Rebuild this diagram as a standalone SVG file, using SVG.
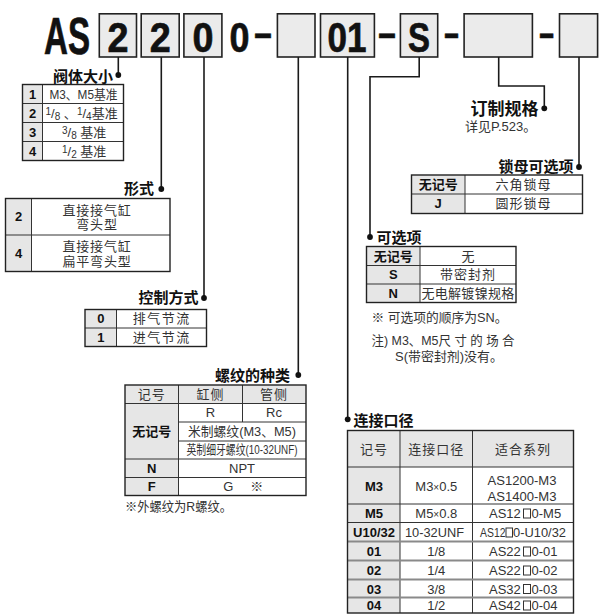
<svg xmlns="http://www.w3.org/2000/svg" width="609" height="614" viewBox="0 0 609 614">
<defs>
<style>
.f{font-family:"Liberation Sans","Noto Sans CJK SC",sans-serif}
.big{font-weight:bold;font-size:43px;fill:#111;stroke:#111;stroke-width:0.7;text-anchor:middle}
.bx{fill:#ebebeb;stroke:#222;stroke-width:1.6}
.ln{fill:none;stroke:#1a1a1a;stroke-width:1.6;marker-end:url(#dot)}
.h{font-size:15px;font-weight:bold;fill:#111}
.t{font-size:13px;fill:#333;text-anchor:middle}
.k{font-size:13px;font-weight:bold;fill:#111;text-anchor:middle}
.kc{fill:#e6e6e6}
.ob{fill:none;stroke:#222;stroke-width:1.4}
.il{fill:none;stroke:#333;stroke-width:1}
.gl{fill:none;stroke:#8a8a8a;stroke-width:2}
.nt{font-size:13px;fill:#333}
.sq{fill:#fff;stroke:#333;stroke-width:1}
</style>
<marker id="dot" viewBox="-4 -4 8 8" markerUnits="userSpaceOnUse" markerWidth="7" markerHeight="7" refX="0" refY="0"><circle r="3.3" fill="#111"/></marker>
</defs>
<rect width="609" height="614" fill="#fff"/>
<g class="f">
<g id="code">
<text transform="translate(44 53.5) scale(0.637 1)" font-weight="bold" font-size="52" fill="#111" stroke="#111" stroke-width="0.7">AS</text>
<rect class="bx" x="99.3" y="13.8" width="37.2" height="43.2"/>
<text class="big" x="117.9" y="52.4" textLength="21" lengthAdjust="spacingAndGlyphs">2</text>
<rect class="bx" x="141.2" y="13.8" width="38" height="43.2"/>
<text class="big" x="160.2" y="52.4" textLength="21" lengthAdjust="spacingAndGlyphs">2</text>
<rect class="bx" x="183.9" y="13.8" width="38" height="43.2"/>
<text class="big" x="202.9" y="52.4" textLength="21" lengthAdjust="spacingAndGlyphs">0</text>
<text class="big" x="239.6" y="52.4" textLength="20" lengthAdjust="spacingAndGlyphs">0</text>
<text class="big" x="262.9" y="47" textLength="17.5" lengthAdjust="spacingAndGlyphs">–</text>
<rect class="bx" x="277.4" y="13.8" width="37.6" height="43.2"/>
<rect class="bx" x="320.5" y="13.8" width="53.9" height="43.2"/>
<text class="big" x="347" y="52.4" textLength="39" lengthAdjust="spacingAndGlyphs">01</text>
<text class="big" x="387" y="47" textLength="17.5" lengthAdjust="spacingAndGlyphs">–</text>
<rect class="bx" x="400.4" y="13.8" width="37.3" height="43.2"/>
<text class="big" x="419" y="52.4" textLength="22" lengthAdjust="spacingAndGlyphs">S</text>
<text class="big" x="451.4" y="47" textLength="14.5" lengthAdjust="spacingAndGlyphs">–</text>
<rect class="bx" x="464.1" y="13.8" width="68.3" height="43.2"/>
<text class="big" x="546.7" y="47" textLength="14.7" lengthAdjust="spacingAndGlyphs">–</text>
<rect class="bx" x="559.5" y="13.8" width="38.1" height="43.2"/>
</g>
<g id="connectors">
<path class="ln" d="M118.3 57V75"/>
<path class="ln" d="M161.3 57V189"/>
<path class="ln" d="M204 57V298"/>
<path class="ln" d="M298.3 57V375"/>
<path class="ln" d="M347.7 57V419.3"/>
<path class="ln" d="M419.2 57V76.7H370V237"/>
<path class="ln" d="M498.7 57V86H544.3V108.3"/>
<path class="ln" d="M579 57V167"/>
</g>
<g id="size">
<text class="h" x="113" y="81.5" text-anchor="end">阀体大小</text>
<rect class="kc" x="22.5" y="84.5" width="20" height="76"/>
<path class="il" d="M42.5 84.5V160.5M22.5 103.5H123.5M22.5 122.5H123.5M22.5 141.5H123.5"/>
<rect class="ob" x="22.5" y="84.5" width="101" height="76"/>
<text class="k" x="32.5" y="98.5">1</text>
<text class="k" x="32.5" y="117.5">2</text>
<text class="k" x="32.5" y="136.5">3</text>
<text class="k" x="32.5" y="155.5">4</text>
<text class="t" x="83.5" y="98.5" textLength="68" lengthAdjust="spacingAndGlyphs">M3、M5基准</text>
<text class="nt" x="45.5" y="117.5"><tspan font-size="10" dy="-3">1</tspan><tspan dy="3">/</tspan><tspan font-size="10" dy="2">8</tspan><tspan dy="-2"> 、</tspan><tspan font-size="10" dy="-3">1</tspan><tspan dy="3">/</tspan><tspan font-size="10" dy="2">4</tspan><tspan dy="-2">基准</tspan></text>
<text class="nt" x="62" y="136.5"><tspan font-size="10" dy="-3">3</tspan><tspan dy="3">/</tspan><tspan font-size="10" dy="2">8</tspan><tspan dy="-2"> 基准</tspan></text>
<text class="nt" x="62" y="155.5"><tspan font-size="10" dy="-3">1</tspan><tspan dy="3">/</tspan><tspan font-size="10" dy="2">2</tspan><tspan dy="-2"> 基准</tspan></text>
</g>
<g id="type">
<text class="h" x="154" y="193.5" text-anchor="end">形式</text>
<rect class="kc" x="5.5" y="198.5" width="26" height="73"/>
<path class="il" d="M31.5 198.5V271.5M5.5 235H170"/>
<rect class="ob" x="5.5" y="198.5" width="164.5" height="73"/>
<text class="k" x="18.5" y="221">2</text>
<text class="k" x="18.5" y="257.5">4</text>
<text class="t" x="97" y="214.5" font-size="12.5" letter-spacing="0.8">直接接气缸</text>
<text class="t" x="97" y="229" font-size="12.5" letter-spacing="0.8">弯头型</text>
<text class="t" x="97" y="251" font-size="12.5" letter-spacing="0.8">直接接气缸</text>
<text class="t" x="97" y="265.5" font-size="12.5" letter-spacing="0.8">扁平弯头型</text>
</g>
<g id="control">
<text class="h" x="198.5" y="303" text-anchor="end">控制方式</text>
<rect class="kc" x="85" y="309.5" width="31.5" height="37"/>
<path class="il" d="M116.5 309.5V346.5M85 328H206.5"/>
<rect class="ob" x="85" y="309.5" width="121.5" height="37"/>
<text class="k" x="100.8" y="323.3">0</text>
<text class="k" x="100.8" y="341.8">1</text>
<text class="t" x="161.7" y="323.3" letter-spacing="1.5">排气节流</text>
<text class="t" x="161.7" y="341.8" letter-spacing="1.5">进气节流</text>
</g>
<g id="thread">
<text class="h" x="290" y="381" text-anchor="end">螺纹的种类</text>
<rect class="kc" x="125" y="385" width="181" height="18.5"/>
<rect class="kc" x="125" y="403.5" width="53.5" height="92"/>
<path class="il" d="M178.5 385V495.5M242.5 385V422M125 403.5H306M178.5 422H306M178.5 441H306M125 459H306M125 477.5H306"/>
<rect class="ob" x="125" y="385" width="181" height="110.5"/>
<text class="t" x="151.7" y="398.7" fill="#555" letter-spacing="1">记号</text>
<text class="t" x="210.5" y="398.7" fill="#555" letter-spacing="1">缸侧</text>
<text class="t" x="274" y="398.7" fill="#555" letter-spacing="1">管侧</text>
<text class="t" x="210.5" y="417.2">R</text>
<text class="t" x="274" y="417.2">Rc</text>
<text class="t" x="242" y="436" textLength="108" lengthAdjust="spacingAndGlyphs">米制螺纹(M3、M5)</text>
<text class="t" x="242" y="454.3" font-size="11.5" textLength="111" lengthAdjust="spacingAndGlyphs">英制细牙螺纹(10-32UNF)</text>
<text class="k" x="151.7" y="435.7" font-size="14">无记号</text>
<text class="k" x="151.7" y="472.7">N</text>
<text class="k" x="151.7" y="491">F</text>
<text class="t" x="242" y="472.7">NPT</text>
<text class="t" x="228.3" y="491">G</text>
<text class="t" x="256.7" y="491">※</text>
<text class="nt" x="125" y="511" font-size="12" textLength="107" lengthAdjust="spacingAndGlyphs">※外螺纹为R螺纹。</text>
</g>
<g id="custom">
<text x="538.5" y="115" font-size="17" font-weight="bold" fill="#111" text-anchor="end">订制规格</text>
<text class="nt" x="465" y="131" font-size="12">详见P.523。</text>
</g>
<g id="locknut">
<text class="h" x="573.5" y="172" text-anchor="end">锁母可选项</text>
<rect class="kc" x="411.5" y="175" width="53.5" height="38.5"/>
<path class="il" d="M465 175V213.5M411.5 194H582.5"/>
<rect class="ob" x="411.5" y="175" width="171" height="38.5"/>
<text class="k" x="438.2" y="189">无记号</text>
<text class="k" x="438.2" y="208">J</text>
<text class="t" x="523.5" y="189" letter-spacing="1">六角锁母</text>
<text class="t" x="523.5" y="208" letter-spacing="1">圆形锁母</text>
</g>
<g id="option">
<text class="h" x="376.5" y="243.3">可选项</text>
<rect class="kc" x="366.5" y="246.5" width="53.5" height="56"/>
<path class="il" d="M420 246.5V302.5M366.5 265.5H516M366.5 284H516"/>
<rect class="ob" x="366.5" y="246.5" width="149.5" height="56"/>
<text class="k" x="393.3" y="260.5">无记号</text>
<text class="k" x="393.3" y="279">S</text>
<text class="k" x="393.3" y="297.5">N</text>
<text class="t" x="468" y="260.5">无</text>
<text class="t" x="468" y="279" letter-spacing="1">带密封剂</text>
<text class="t" x="468" y="297.5" letter-spacing="0.3">无电解镀镍规格</text>
<text class="nt" x="371.5" y="322" textLength="136" lengthAdjust="spacingAndGlyphs">※ 可选项的顺序为SN。</text>
<text class="nt" x="371.5" y="344.5" textLength="143" lengthAdjust="spacingAndGlyphs">注) M3、M5尺 寸 的 场 合</text>
<text class="nt" x="395" y="361" textLength="108" lengthAdjust="spacingAndGlyphs">S(带密封剂)没有。</text>
</g>
<g id="port">
<text class="h" x="353.5" y="425.5">连接口径</text>
<rect class="kc" x="347.5" y="430.5" width="226" height="36.5"/>
<rect class="kc" x="347.5" y="467" width="52.5" height="146"/>
<path class="il" d="M400 430.5V613M472.5 430.5V613M347.5 467H573.5M347.5 504H573.5M347.5 522.5H573.5"/>
<path class="gl" d="M347.5 541.5H573.5M347.5 560.5H573.5M347.5 579.5H573.5M347.5 597.5H573.5"/>
<rect class="ob" x="347.5" y="430.5" width="226" height="182.5"/>
<text class="t" x="374" y="453.5" letter-spacing="1">记号</text>
<text class="t" x="436.3" y="453.5" letter-spacing="1">连接口径</text>
<text class="t" x="523" y="453.5" letter-spacing="1">适合系列</text>
<g class="k" font-size="14">
<text x="374" y="490.5">M3</text>
<text x="374" y="518">M5</text>
<text x="374" y="537">U10/32</text>
<text x="374" y="556">01</text>
<text x="374" y="575">02</text>
<text x="374" y="593.5">03</text>
<text x="374" y="610">04</text>
</g>
<g class="t" font-size="14">
<text x="436.3" y="490.5">M3<tspan font-size="10">×</tspan>0.5</text>
<text x="436.3" y="518">M5<tspan font-size="10">×</tspan>0.8</text>
<text x="434.5" y="537" font-size="13.5" textLength="59" lengthAdjust="spacingAndGlyphs">10-32UNF</text>
<text x="436.3" y="556">1/8</text>
<text x="436.3" y="575">1/4</text>
<text x="436.3" y="593.5">3/8</text>
<text x="436.3" y="610">1/2</text>
<text x="522" y="484.5" textLength="69" lengthAdjust="spacingAndGlyphs">AS1200-M3</text>
<text x="522" y="500.5" textLength="69" lengthAdjust="spacingAndGlyphs">AS1400-M3</text>
</g>
<g class="nt" font-size="13.5" fill="#333">
<text x="489" y="518">AS12</text><rect class="sq" x="523.5" y="509" width="7" height="9"/><text x="531.5" y="518">0-M5</text>
<text x="480" y="537" font-size="12" textLength="25.5" lengthAdjust="spacingAndGlyphs">AS12</text><rect class="sq" x="506" y="528" width="6.5" height="9"/><text x="513" y="537" font-size="12" textLength="53" lengthAdjust="spacingAndGlyphs">0-U10/32</text>
<text x="489" y="556">AS22</text><rect class="sq" x="523.5" y="547" width="7" height="9"/><text x="531.5" y="556">0-01</text>
<text x="489" y="575">AS22</text><rect class="sq" x="523.5" y="566" width="7" height="9"/><text x="531.5" y="575">0-02</text>
<text x="489" y="593.5">AS32</text><rect class="sq" x="523.5" y="584.5" width="7" height="9"/><text x="531.5" y="593.5">0-03</text>
<text x="489" y="610">AS42</text><rect class="sq" x="523.5" y="601" width="7" height="9"/><text x="531.5" y="610">0-04</text>
</g>
</g>
</g>
</svg>
